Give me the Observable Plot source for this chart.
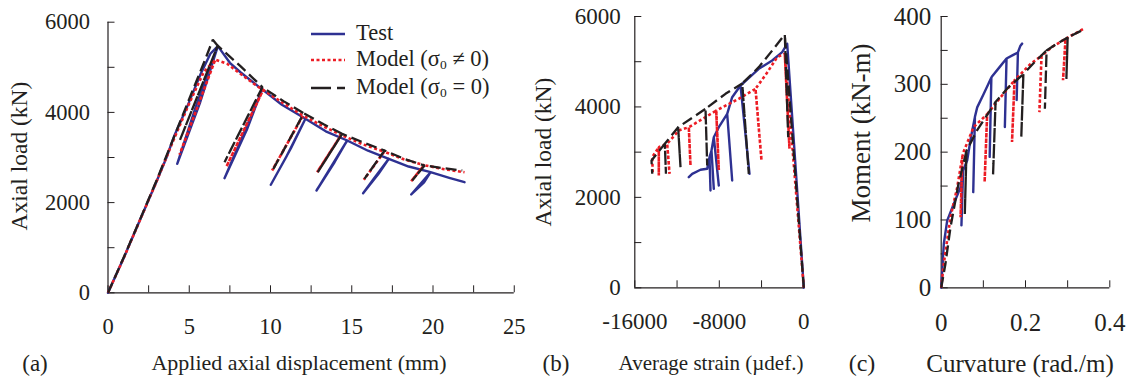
<!DOCTYPE html>
<html><head><meta charset="utf-8">
<script src="https://cdn.jsdelivr.net/npm/d3@7"></script>
<script src="https://cdn.jsdelivr.net/npm/@observablehq/plot@0.6"></script>
<style>
body{margin:0;background:#fff;}
#wrap{position:relative;width:1129px;height:381px;overflow:hidden;font-family:"Liberation Serif","Times New Roman",serif;color:#231f20;}
.p{position:absolute;top:0;}
.t{position:absolute;white-space:nowrap;line-height:1;transform:translate(-50%,-50%);}
.leg{position:absolute;white-space:nowrap;line-height:1;font-size:22.5px;}
sub{font-size:0.6em;vertical-align:-0.25em;}
</style></head><body>
<div id="wrap"></div>
<script>
const BLUE = "#2e3192", RED = "#ed1c24", BLACK = "#231f20", AXIS = "#231f20";

// ---------- panel (a): axial load vs applied axial displacement ----------
const xTicksA = [0, 2.5, 5, 7.5, 10, 12.5, 15, 17.5, 20, 22.5, 25];
const xLabelsA = [0, 5, 10, 15, 20, 25];
const yTicksA = [0, 1000, 2000, 3000, 4000, 5000, 6000];
const yLabelsA = [0, 2000, 4000, 6000];
const testA = [[0,0],[1,800],[2,1640],[3,2480],[3.6,3000],[4.1,3500],[4.9,4150],[5.7,4850],[6.3,5300],[6.76,5470],
  [5.65,4200],[4.26,2860],[5.4,4120],[6.76,5470],
  [7.5,5100],[8.15,4890],[9.49,4510],
  [8.55,3620],[7.17,2540],[8.2,3400],[9.49,4510],
  [10.7,4170],[12.15,3860],
  [11.25,3200],[10.02,2395],[10.95,3000],[12.15,3860],
  [13.4,3580],[14.72,3377],
  [13.95,2900],[12.83,2268],[13.6,2720],[14.72,3377],
  [16.0,3150],[17.28,2971],
  [16.65,2640],[15.7,2208],[16.3,2500],[17.28,2971],
  [18.5,2800],[19.85,2674],
  [19.45,2450],[18.66,2180],[19.1,2360],[19.85,2674],
  [21.0,2550],[21.94,2452]];
const modelA = [[0,0],[1,800],[2,1640],[3,2480],[4,3360],[5,4200],[5.9,4900],[6.6,5170],
  [4.4,3060],[6.6,5170],
  [7.33,5078],[8.15,4856],[9.18,4580],[9.55,4500],
  [7.29,2800],[9.55,4500],
  [10.8,4200],[12.0,3930],
  [10.1,2712],[12.0,3930],
  [13.2,3700],[14.35,3500],
  [12.87,2674],[14.35,3500],
  [15.7,3290],[17.0,3130],
  [15.74,2505],[17.0,3130],
  [18.2,2960],[19.45,2830],
  [18.66,2474],[19.45,2830],
  [20.7,2740],[21.94,2674]];
const model0A = [[0,0],[1,810],[2,1650],[3,2500],[4,3400],[5,4300],[5.9,5100],[6.45,5610],[6.75,5480],
  [4.42,3380],[6.75,5480],
  [8.15,5026],[9.5,4560],
  [7.17,2896],[9.5,4560],
  [10.8,4250],[12.05,3980],
  [10.1,2697],[12.05,3980],
  [13.3,3730],[14.41,3525],
  [12.91,2674],[14.41,3525],
  [15.8,3320],[17.02,3155],
  [15.78,2527],[17.02,3155],
  [18.3,2960],[19.48,2823],
  [18.72,2490],[19.48,2823],
  [20.7,2760],[21.8,2712]];

// ---------- panel (b): axial load vs average strain ----------
const xTicksB = [-16000, -12000, -8000, -4000, 0];
const xLabelsB = [-16000, -8000, 0];
const yTicksB = [0, 1000, 2000, 3000, 4000, 5000, 6000];
const yLabelsB = [0, 2000, 4000, 6000];
const testB = [[0,0],[-1572,5396],[-2045,5211],[-2991,5027],[-4260,4843],[-5993,4474],
  [-5140,2521],[-5993,4474],
  [-6780,4215],[-7252,3848],
  [-6780,2373],[-7252,3848],
  [-8046,3552],[-8520,3331],
  [-8046,2262],[-8520,3331],
  [-8738,3036],
  [-8520,2189],[-8738,3036],
  [-8927,2889],
  [-8833,2152],[-8927,2889],
  [-9145,2632],[-9780,2610],[-10565,2521],[-10887,2447]];
const modelB = [[0,0],[-1799,5175],
  [-1354,3074],[-1799,5175],
  [-2518,5101],[-3500,4750],[-4573,4401],
  [-4005,2815],[-4573,4401],
  [-6153,4180],[-8293,3921],
  [-8046,2600],[-8293,3921],
  [-9306,3773],[-10887,3552],
  [-10726,2705],[-10887,3552],
  [-11833,3479],[-12932,3185],
  [-12714,2521],[-12932,3185],
  [-13727,3110],
  [-13727,2484],[-13727,3110],
  [-14352,2889],
  [-14300,2521]];
const model0B = [[0,0],[-1799,5602],
  [-1477,3331],[-1799,5602],
  [-2991,5248],[-4260,4879],[-5830,4518],
  [-5207,2521],[-5830,4518],
  [-7413,4290],[-9306,3958],
  [-9145,2705],[-9306,3958],
  [-11896,3552],
  [-11673,2668],[-11896,3552],
  [-13159,3184],
  [-13050,2521],[-13159,3184],
  [-14418,2815],
  [-14350,2521]];

// ---------- panel (c): moment vs curvature ----------
const xTicksC = [0, 0.1, 0.2, 0.3, 0.4];
const xLabelsC = [0, 0.2, 0.4];
const yTicksC = [0, 50, 100, 150, 200, 250, 300, 350, 400];
const yLabelsC = [0, 100, 200, 300, 400];
const testC = [[0,0],[0.0062,65],[0.0142,99],[0.030,124],[0.0458,148],[0.052,173],
  [0.048,92],[0.052,173],
  [0.0617,188],[0.070,220],[0.080,252],
  [0.076,141],[0.080,252],
  [0.0854,266],[0.101,286],[0.119,310],
  [0.115,193],[0.119,310],
  [0.121,312],[0.138,325],[0.155,338],
  [0.151,237],[0.155,338],
  [0.170,343],[0.182,347],
  [0.179,277],[0.182,347],
  [0.188,357],[0.192,360]];
const modelC = [[0,0],[0.006,35],[0.022,104],[0.038,148],[0.050,193],
  [0.046,104],[0.050,193],
  [0.054,202],[0.077,237],[0.109,256],
  [0.103,156],[0.109,256],
  [0.141,281],[0.174,306],
  [0.168,215],[0.174,306],
  [0.212,330],[0.238,342],
  [0.233,259],[0.238,342],
  [0.265,356],[0.295,367],
  [0.289,306],[0.295,367],
  [0.338,382]];
const model0C = [[0,0],[0.010,35],[0.022,89],[0.040,150],[0.060,202],
  [0.056,109],[0.060,202],
  [0.085,232],[0.129,274],
  [0.123,166],[0.129,274],
  [0.160,296],[0.195,315],
  [0.190,222],[0.195,315],
  [0.222,333],[0.250,350],
  [0.246,264],[0.250,350],
  [0.275,360],[0.300,369],
  [0.297,308],[0.300,369],
  [0.342,382]];

const legendItems = ["Test", "Model (σ<sub>0</sub> ≠ 0)", "Model (σ<sub>0</sub> = 0)"];

const wrap = document.getElementById("wrap");

function panel(cfg) {
  const fmt = d => String(d);
  const svg = Plot.plot({
    width: cfg.width, height: 381,
    marginLeft: cfg.mL, marginRight: cfg.mR, marginTop: cfg.mT, marginBottom: cfg.mB,
    x: {domain: cfg.xDom}, y: {domain: cfg.yDom},
    style: {fontFamily: '"Liberation Serif","Times New Roman",serif', fontSize: cfg.fs + "px", color: AXIS, background: "transparent", overflow: "visible"},
    marks: [
      Plot.ruleX([cfg.xDom[0]], {stroke: AXIS, strokeWidth: 1.2}),
      Plot.ruleY([cfg.yDom[0]], {stroke: AXIS, strokeWidth: 1.2}),
      Plot.axisX(cfg.xTicks, {tickSize: -7, fill: "none", stroke: AXIS, label: null, tickFormat: fmt}),
      Plot.axisX(cfg.xLabels, {tickSize: 0, tickPadding: cfg.xPad, label: null, tickFormat: fmt, fontSize: cfg.fs, fill: AXIS}),
      Plot.axisY(cfg.yTicks, {tickSize: -7, fill: "none", stroke: AXIS, label: null, tickFormat: fmt}),
      Plot.axisY(cfg.yLabels, {tickSize: 0, tickPadding: cfg.yPad, label: null, tickFormat: fmt, fontSize: cfg.fs, fill: AXIS}),
      Plot.line(cfg.test, {x: d => d[0], y: d => d[1], stroke: BLUE, strokeWidth: 2.4}),
      Plot.line(cfg.model, {x: d => d[0], y: d => d[1], stroke: RED, strokeWidth: 2.6, strokeDasharray: "3,2.5", strokeLinecap: "butt", strokeLinejoin: "miter"}),
      Plot.line(cfg.model0, {x: d => d[0], y: d => d[1], stroke: BLACK, strokeWidth: 2.3, strokeDasharray: "11,5", strokeLinecap: "butt", strokeLinejoin: "miter"})
    ]
  });
  svg.classList.add("p");
  svg.style.left = cfg.left + "px";
  wrap.appendChild(svg);
}

panel({left: 0, width: 530, mL: 107.5, mR: 16.25, mT: 21.7, mB: 88.7, xDom: [0, 25], yDom: [0, 6000],
  xTicks: xTicksA, xLabels: xLabelsA, yTicks: yTicksA, yLabels: yLabelsA, fs: 22.5, xPad: 25, yPad: 18,
  test: testA, model: modelA, model0: model0A});
panel({left: 530, width: 300, mL: 104.3, mR: 26.7, mT: 16, mB: 93.7, xDom: [-16000, 0], yDom: [0, 6000],
  xTicks: xTicksB, xLabels: xLabelsB, yTicks: yTicksB, yLabels: yLabelsB, fs: 23, xPad: 25, yPad: 14,
  test: testB, model: modelB, model0: model0B});
panel({left: 830, width: 299, mL: 110.7, mR: 19.7, mT: 16, mB: 93.7, xDom: [0, 0.4], yDom: [0, 400],
  xTicks: xTicksC, xLabels: xLabelsC, yTicks: yTicksC, yLabels: yLabelsC, fs: 25, xPad: 25, yPad: 10,
  test: testC, model: modelC, model0: model0C});

function text(str, x, y, fs, extra) {
  const d = document.createElement("div");
  d.className = "t";
  d.innerHTML = str;
  d.style.left = x + "px"; d.style.top = y + "px"; d.style.fontSize = fs + "px";
  if (extra) d.style.transform = "translate(-50%,-50%) " + extra;
  wrap.appendChild(d);
}
text("(a)", 35, 363, 23);
text("Applied axial displacement (mm)", 299, 363, 22);
text("(b)", 556, 363, 23);
text("Average strain (µdef.)", 711, 363, 21);
text("(c)", 862, 363, 24);
text("Curvature (rad./m)", 1020, 363, 25);
text("Axial load (kN)", 20, 156, 23.5, "rotate(-90deg)");
text("Axial load (kN)", 544, 152, 23.5, "rotate(-90deg)");
text("Moment (kN-m)", 861, 133, 27, "rotate(-90deg)");

// legend
const legStyles = [
  {stroke: BLUE, w: 2.4, dash: null},
  {stroke: RED, w: 2.6, dash: "3,2.5"},
  {stroke: BLACK, w: 2.4, dash: "20,6,8,100"}
];
const legY = [34, 60, 88];
legendItems.forEach((lab, i) => {
  const s = legStyles[i];
  const sv = d3.select(wrap).append("svg").attr("width", 36).attr("height", 8)
    .style("position", "absolute").style("left", "310px").style("top", (legY[i] - 4) + "px");
  sv.append("line").attr("x1", 1).attr("x2", 35).attr("y1", 4).attr("y2", 4)
    .attr("stroke", s.stroke).attr("stroke-width", s.w).attr("stroke-dasharray", s.dash);
  const d = document.createElement("div");
  d.className = "leg";
  d.innerHTML = lab;
  d.style.left = "356px"; d.style.top = (legY[i] - 12) + "px";
  wrap.appendChild(d);
});
</script>
</body></html>
